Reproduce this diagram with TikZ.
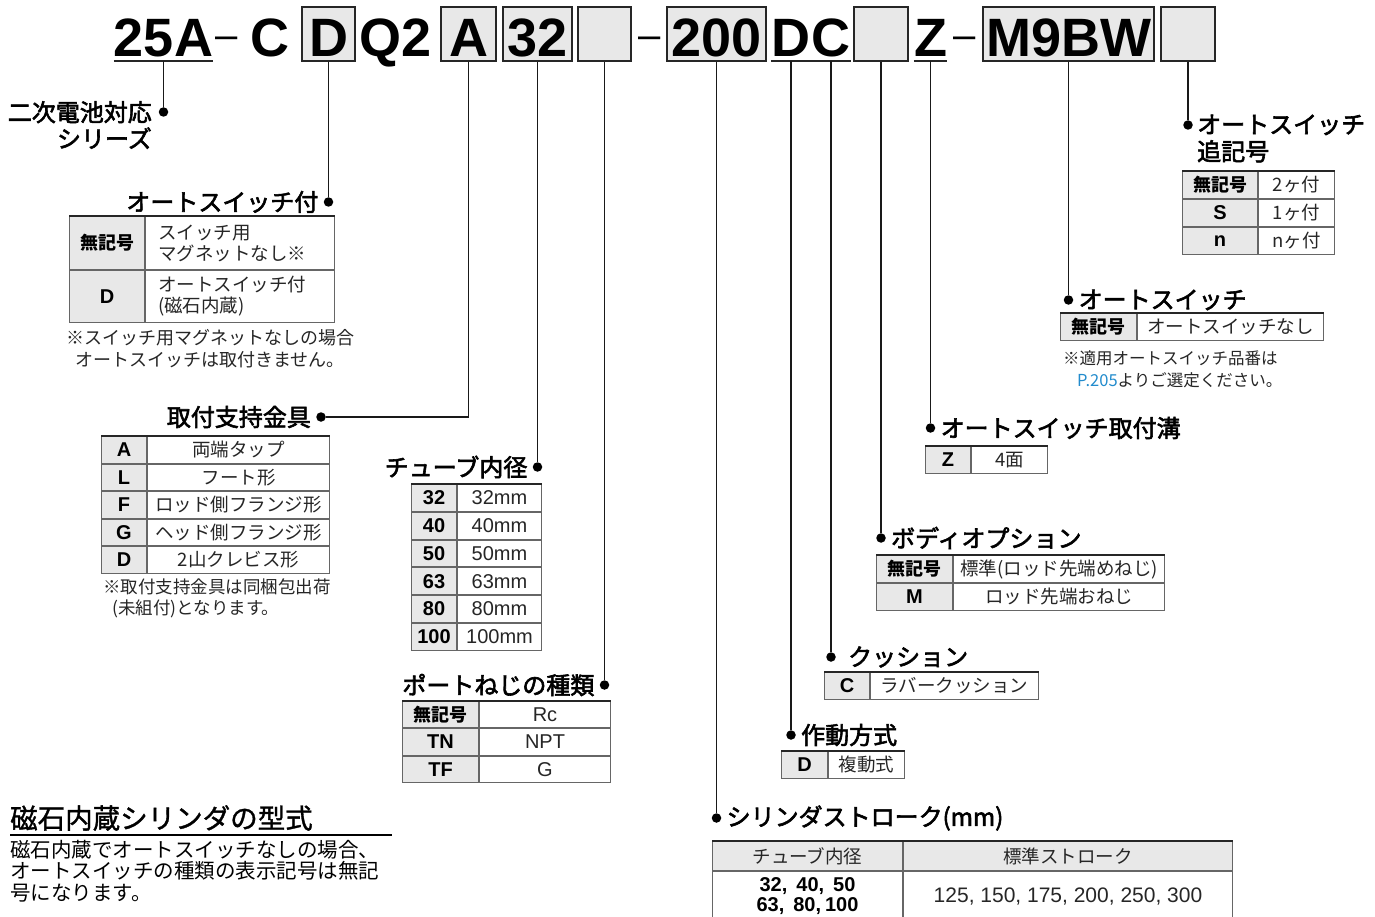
\documentclass[tikz,border=0pt]{standalone}
\usepackage{fontspec}
\setmainfont{Liberation Sans}
\newfontfamily\jp{Noto Sans CJK JP}
\newfontfamily\jpm[FakeBold=2.4]{Noto Sans CJK JP}
\newfontfamily\jpl[FakeBold=1.2]{Noto Sans CJK JP}
\usepackage{xcolor}
\usepackage{tikz}
\usetikzlibrary{positioning}

\definecolor{pblue}{RGB}{35,140,205}
\newcommand\nosym{{\jp\bfseries\fontsize{18}{20}\selectfont 無記号}}

\begin{document}
\begin{tikzpicture} [
	x=1pt, y=-1pt, % one unit is one pixel of the sheet, y runs downwards
	hdtext/.style={inner sep=0pt, text height=50pt, text depth=4pt, font=\bfseries\fontsize{54}{54}\selectfont},
	hdbox/.style={hdtext, draw=black!85, line width=1.6pt, fill=gray!18}, % boxed part of the code
	hyph/.style={inner sep=0pt, anchor=base, font=\fontsize{40}{40}\selectfont},
	uline/.style={line width=2.4pt, black!85},
	lead/.style={line width=1.8pt, black!90}, % leader from the code down to a title
	jdot/.style={circle, fill=black, inner sep=0pt, minimum size=9.5pt},
	ttl/.style={inner sep=0pt, font=\jpm\fontsize{24}{26.5}\selectfont},
	kcell/.style={draw=black!60, line width=1pt, fill=gray!18, inner sep=0pt, font=\bfseries\fontsize{20}{22}\selectfont},
	valj/.style={draw=black!60, line width=1pt, fill=white, inner sep=0pt, text=black!85, font=\jp\fontsize{18.5}{21}\selectfont},
	vlat/.style={valj, font=\fontsize{20}{22}\selectfont},
	toprule/.style={line width=2.4pt, black!85},
	notetxt/.style={inner sep=0pt, text=black!85, font=\jp\fontsize{17.5}{21}\selectfont},
	]
	\path[use as bounding box, fill=white] (0,0) rectangle (1375,917);

	% the code itself
	\node[hdtext] (h25A) at (163.5,34) {25A};
	\node[hyph] (hdashA) at (227,49) {–};
	\node[hdtext] (hC) at (270,34) {C};
	\node[hdbox, minimum width=53] (hD) at (328.5,34) {D};
	\node[hdtext] (hQ2) at (396,34) {Q2};
	\node[hdbox, minimum width=55] (hA) at (468.5,34) {A};
	\node[hdbox, minimum width=69] (h32) at (537.5,34) {32};
	\node[hdbox, minimum width=53] (hPort) at (604.5,34) {};
	\node[hyph] (hdashB) at (650,49) {–};
	\node[hdbox, minimum width=99] (h200) at (716.5,34) {200};
	\node[hdtext] (hAct) at (791,34) {D};
	\node[hdtext] (hCush) at (831,34) {C};
	\node[hdbox, minimum width=54] (hOpt) at (881,34) {};
	\node[hdtext] (hZ) at (930.5,34) {Z};
	\node[hyph] (hdashC) at (965,49) {–};
	\node[hdbox, minimum width=171] (hSw) at (1068.5,34) {M9BW};
	\node[hdbox, minimum width=54] (hNum) at (1188,34) {};
	\draw[uline] (h25A.south west) -- (h25A.south east);
	\draw[uline] (hAct.south west) -- (hAct.south east);
	\draw[uline] (hCush.south west) -- (hCush.south east);
	\draw[uline] (hZ.south west) -- (hZ.south east);

	% dots at the end of each leader
	\node[jdot] (d25A) at (163.5,112) {};
	\node[jdot] (dD) at (328.5,202) {};
	\node[jdot] (dA) at (321,417) {};
	\node[jdot] (d32) at (537.5,467) {};
	\node[jdot] (dPort) at (604.5,685) {};
	\node[jdot] (d200) at (716.5,818) {};
	\node[jdot] (dAct) at (791,735) {};
	\node[jdot] (dCush) at (831,657) {};
	\node[jdot] (dOpt) at (881,538) {};
	\node[jdot] (dZ) at (930.5,428) {};
	\node[jdot] (dSw) at (1068.5,300) {};
	\node[jdot] (dNum) at (1188,125) {};
	\draw[lead]
		(h25A.south) -- (d25A)
		(hD.south) -- (dD)
		(hA.south) |- (dA)
		(h32.south) -- (d32)
		(hPort.south) -- (dPort)
		(h200.south) -- (d200)
		(hAct.south) -- (dAct)
		(hCush.south) -- (dCush)
		(hOpt.south) -- (dOpt)
		(hZ.south) -- (dZ)
		(hSw.south) -- (dSw)
		(hNum.south) -- (dNum)
	;

	% titles
	\node[ttl, align=right, anchor=east] (t25A) at (152,125) {二次電池対応\\シリーズ};
	\node[ttl, left=5pt of dD] (tD) {オートスイッチ付};
	\node[ttl, left=5pt of dA] (tA) {取付支持金具};
	\node[ttl, left=5pt of d32] (t32) {チューブ内径};
	\node[ttl, left=5pt of dPort] (tPort) {ポートねじの種類};
	\node[ttl, right=5pt of d200] (t200) {シリンダストローク(mm)};
	\node[ttl, right=5pt of dAct] (tAct) {作動方式};
	\node[ttl, right=12pt of dCush] (tCush) {クッション};
	\node[ttl, right=5pt of dOpt] (tOpt) {ボディオプション};
	\node[ttl, right=5pt of dZ] (tZ) {オートスイッチ取付溝};
	\node[ttl, right=5pt of dSw] (tSw) {オートスイッチ};
	\node[ttl, align=left, anchor=west, font=\jpm\fontsize{24}{27}\selectfont] (tNum) at (1197,138.5) {オートスイッチ\\追記号};

	% auto switch
	\node[kcell, minimum width=75, minimum height=53, anchor=north west] (s1) at (69,216) {\nosym};
	\node[valj, minimum width=189, minimum height=53, text width=164, align=left, right=0pt of s1] (s1v) {スイッチ用\\マグネットなし※};
	\node[kcell, minimum width=75, minimum height=52, below=0pt of s1] (s2) {D};
	\node[valj, minimum width=189, minimum height=52, text width=164, align=left, right=0pt of s2] (s2v) {オートスイッチ付\\(磁石内蔵)};
	\draw[toprule] (s1.north west) -- (s1v.north east);
	\node[notetxt, align=center, font=\jp\fontsize{18}{22}\selectfont] (n1) at (210,349) {※スイッチ用マグネットなしの場合\\オートスイッチは取付きません。};

	% mounting
	\node[kcell, minimum width=45, minimum height=26.5, anchor=north west] (m1) at (101,436) {A};
	\node[valj, minimum width=182, minimum height=26.5, right=0pt of m1] (m1v) {両端タップ};
	\node[kcell, minimum width=45, minimum height=26.5, below=0pt of m1] (m2) {L};
	\node[valj, minimum width=182, minimum height=26.5, right=0pt of m2] (m2v) {フート形};
	\node[kcell, minimum width=45, minimum height=26.5, below=0pt of m2] (m3) {F};
	\node[valj, minimum width=182, minimum height=26.5, right=0pt of m3] (m3v) {ロッド側フランジ形};
	\node[kcell, minimum width=45, minimum height=26.5, below=0pt of m3] (m4) {G};
	\node[valj, minimum width=182, minimum height=26.5, right=0pt of m4] (m4v) {ヘッド側フランジ形};
	\node[kcell, minimum width=45, minimum height=26.5, below=0pt of m4] (m5) {D};
	\node[valj, minimum width=182, minimum height=26.5, right=0pt of m5] (m5v) {2山クレビス形};
	\draw[toprule] (m1.north west) -- (m1v.north east);
	\node[notetxt, align=left, anchor=west] (n2) at (103,598) {※取付支持金具は同梱包出荷\\\hspace*{9pt}(未組付)となります。};

	% bore size
	\node[kcell, minimum width=45, minimum height=26.8, anchor=north west] (b1) at (411,484) {32};
	\node[vlat, minimum width=84, minimum height=26.8, right=0pt of b1] (b1v) {32mm};
	\node[kcell, minimum width=45, minimum height=26.8, below=0pt of b1] (b2) {40};
	\node[vlat, minimum width=84, minimum height=26.8, right=0pt of b2] (b2v) {40mm};
	\node[kcell, minimum width=45, minimum height=26.8, below=0pt of b2] (b3) {50};
	\node[vlat, minimum width=84, minimum height=26.8, right=0pt of b3] (b3v) {50mm};
	\node[kcell, minimum width=45, minimum height=26.8, below=0pt of b3] (b4) {63};
	\node[vlat, minimum width=84, minimum height=26.8, right=0pt of b4] (b4v) {63mm};
	\node[kcell, minimum width=45, minimum height=26.8, below=0pt of b4] (b5) {80};
	\node[vlat, minimum width=84, minimum height=26.8, right=0pt of b5] (b5v) {80mm};
	\node[kcell, minimum width=45, minimum height=26.8, below=0pt of b5] (b6) {100};
	\node[vlat, minimum width=84, minimum height=26.8, right=0pt of b6] (b6v) {100mm};
	\draw[toprule] (b1.north west) -- (b1v.north east);

	% port thread
	\node[kcell, minimum width=76, minimum height=26.3, anchor=north west] (p1) at (402,701) {\nosym};
	\node[vlat, minimum width=131, minimum height=26.3, right=0pt of p1] (p1v) {Rc};
	\node[kcell, minimum width=76, minimum height=26.3, below=0pt of p1] (p2) {TN};
	\node[vlat, minimum width=131, minimum height=26.3, right=0pt of p2] (p2v) {NPT};
	\node[kcell, minimum width=76, minimum height=26.3, below=0pt of p2] (p3) {TF};
	\node[vlat, minimum width=131, minimum height=26.3, right=0pt of p3] (p3v) {G};
	\draw[toprule] (p1.north west) -- (p1v.north east);

	% stroke
	\node[valj, fill=gray!18, minimum width=190, minimum height=29, anchor=north west] (k1) at (712,841) {チューブ内径};
	\node[valj, fill=gray!18, minimum width=329, minimum height=29, right=0pt of k1] (k1v) {標準ストローク};
	\node[valj, text=black, align=center, font=\bfseries\fontsize{20}{20}\selectfont, minimum width=190, minimum height=50, below=0pt of k1] (k2) {32,\hspace{9pt}40,\hspace{9pt}50\\63,\hspace{9pt}80,\hspace{4pt}100};
	\node[vlat, font=\fontsize{21}{22}\selectfont, minimum width=329, minimum height=50, right=0pt of k2] (k2v) {125, 150, 175, 200, 250, 300};
	\draw[toprule] (k1.north west) -- (k1v.north east);

	% action
	\node[kcell, minimum width=46, minimum height=27, anchor=north west] (a1) at (781,751) {D};
	\node[valj, minimum width=76, minimum height=27, right=0pt of a1] (a1v) {複動式};
	\draw[toprule] (a1.north west) -- (a1v.north east);

	% cushion
	\node[kcell, minimum width=45, minimum height=27, anchor=north west] (c1) at (824,672) {C};
	\node[valj, minimum width=168, minimum height=27, right=0pt of c1] (c1v) {ラバークッション};
	\draw[toprule] (c1.north west) -- (c1v.north east);

	% body option
	\node[kcell, minimum width=76, minimum height=27, anchor=north west] (o1) at (876,555) {\nosym};
	\node[valj, minimum width=211, minimum height=27, right=0pt of o1] (o1v) {標準(ロッド先端めねじ)};
	\node[kcell, minimum width=76, minimum height=27, below=0pt of o1] (o2) {M};
	\node[valj, minimum width=211, minimum height=27, right=0pt of o2] (o2v) {ロッド先端おねじ};
	\draw[toprule] (o1.north west) -- (o1v.north east);

	% switch rail
	\node[kcell, minimum width=45, minimum height=27, anchor=north west] (z1) at (925,446) {Z};
	\node[valj, minimum width=76, minimum height=27, right=0pt of z1] (z1v) {4面};
	\draw[toprule] (z1.north west) -- (z1v.north east);

	% auto switch type
	\node[kcell, minimum width=76, minimum height=27, anchor=north west] (w1) at (1060,313) {\nosym};
	\node[valj, minimum width=186, minimum height=27, right=0pt of w1] (w1v) {オートスイッチなし};
	\draw[toprule] (w1.north west) -- (w1v.north east);
	\node[notetxt, align=left, anchor=west, font=\jp\fontsize{16.5}{22}\selectfont] (n3) at (1063,369) {※適用オートスイッチ品番は\\\hspace*{14pt}{\color{pblue}P.205}よりご選定ください。};

	% number of switches
	\node[kcell, minimum width=75, minimum height=27, anchor=north west] (q1) at (1182,171) {\nosym};
	\node[valj, minimum width=76, minimum height=27, right=0pt of q1] (q1v) {2ヶ付};
	\node[kcell, minimum width=75, minimum height=27, below=0pt of q1] (q2) {S};
	\node[valj, minimum width=76, minimum height=27, right=0pt of q2] (q2v) {1ヶ付};
	\node[kcell, minimum width=75, minimum height=27, below=0pt of q2] (q3) {n};
	\node[valj, minimum width=76, minimum height=27, right=0pt of q3] (q3v) {nヶ付};
	\draw[toprule] (q1.north west) -- (q1v.north east);

	% magnet note
	\node[anchor=west, inner sep=0pt, font=\jpl\fontsize{27.5}{30}\selectfont] (mtitle) at (10,818) {磁石内蔵シリンダの型式};
	\draw[line width=2pt] (10,835) -- (392,835);
	\node[anchor=north west, inner sep=0pt, align=left, font=\jp\fontsize{20.5}{21.5}\selectfont] (mtext) at (10,840) {磁石内蔵でオートスイッチなしの場合、\\オートスイッチの種類の表示記号は無記\\号になります。};
\end{tikzpicture}
\end{document}
